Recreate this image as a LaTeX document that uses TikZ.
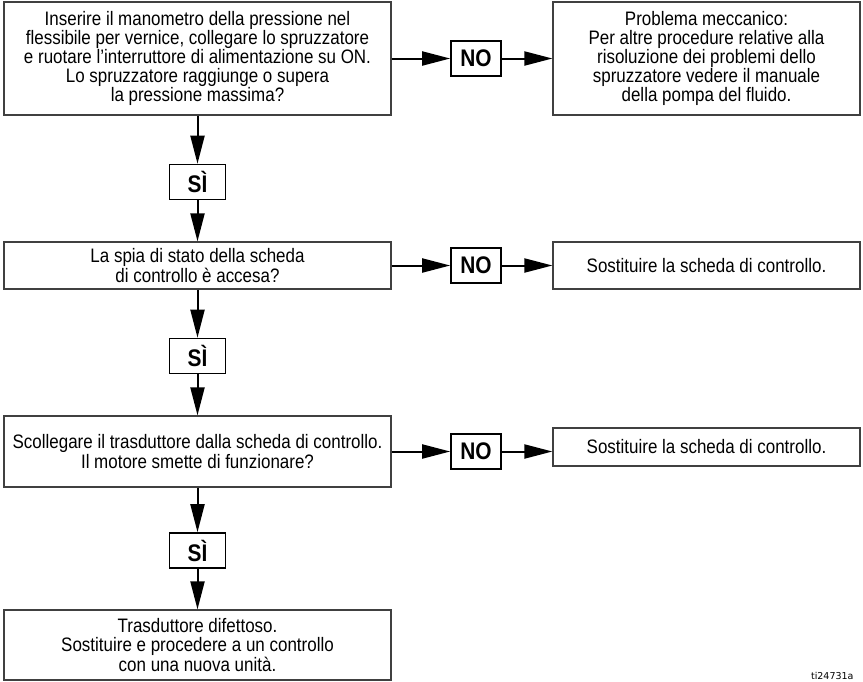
\documentclass[tikz,border=0pt]{standalone}
\usepackage{fontspec}
\setmainfont{Liberation Sans}[FakeStretch=0.87]
\newfontfamily\tagfont{DejaVu Sans}
\usetikzlibrary{arrows.meta}

\begin{document}
\begin{tikzpicture}[
    x=1pt, y=-1pt,
    box/.style={draw=black!75, line width=1.2pt, align=center, inner sep=0pt,
        font=\fontsize{19.5}{19.2}\selectfont},
    lbl/.style={draw, line width=1.6pt, inner sep=0pt, minimum height=35pt,
        font=\fontsize{24}{24}\selectfont\bfseries},
    flow/.style={-{Triangle[length=28pt, width=14pt]}, line width=2pt}
]
\useasboundingbox (0,0) rectangle (863,681);
% Questions (left column)
\node[box, minimum width=387pt, minimum height=113pt] (q1) at (197.5,58.5)
    {Inserire il manometro della pressione nel\\
     flessibile per vernice, collegare lo spruzzatore\\
     e ruotare l’interruttore di alimentazione su ON.\\
     Lo spruzzatore raggiunge o supera\\
     la pressione massima?};
\node[box, minimum width=387pt, minimum height=47pt] (q2) at (197.5,265.5)
    {La spia di stato della scheda\\ di controllo è accesa?};
\node[box, minimum width=387pt, minimum height=71pt] (q3) at (197.5,451.5)
    {Scollegare il trasduttore dalla scheda di controllo.\\
     Il motore smette di funzionare?};
\node[box, minimum width=387pt, minimum height=70pt] (q4) at (197.5,645)
    {Trasduttore difettoso.\\
     Sostituire e procedere a un controllo\\
     con una nuova unità.};
% Yes labels
\node[lbl, minimum width=56pt] (si1) at (197.5,182) {SÌ};
\node[lbl, minimum width=56pt] (si2) at (197.5,356) {SÌ};
\node[lbl, minimum width=56pt] (si3) at (197.5,550.5) {SÌ};
% No labels
\node[lbl, minimum width=50pt] (no1) at (476,58.5) {NO};
\node[lbl, minimum width=50pt] (no2) at (476,265.5) {NO};
\node[lbl, minimum width=50pt] (no3) at (476,451.5) {NO};
% Actions (right column)
\node[box, minimum width=307pt, minimum height=113pt] (a1) at (706.5,58.5)
    {Problema meccanico:\\
     Per altre procedure relative alla\\
     risoluzione dei problemi dello\\
     spruzzatore vedere il manuale\\
     della pompa del fluido.};
\node[box, minimum width=307pt, minimum height=47pt] (a2) at (706.5,265.5)
    {Sostituire la scheda di controllo.};
\node[box, minimum width=307pt, minimum height=38pt] (a3) at (706.5,447)
    {Sostituire la scheda di controllo.};
% Arrows
\draw[flow] (q1) -- (no1);
\draw[flow] (no1) -- (a1);
\draw[flow] (q2) -- (no2);
\draw[flow] (no2) -- (a2);
\draw[flow] (q3) -- (no3);
\draw[flow] (no3) -- (a3.west |- no3);
\draw[flow] (q1) -- (si1);
\draw[flow] (si1) -- (q2);
\draw[flow] (q2) -- (si2);
\draw[flow] (si2) -- (q3);
\draw[flow] (q3) -- (si3);
\draw[flow] (si3) -- (q4);
% Figure tag
\node[font=\tagfont\fontsize{9.5}{10}\selectfont, anchor=base east] (tag) at (857,679) {ti24731a};
\end{tikzpicture}
\end{document}
